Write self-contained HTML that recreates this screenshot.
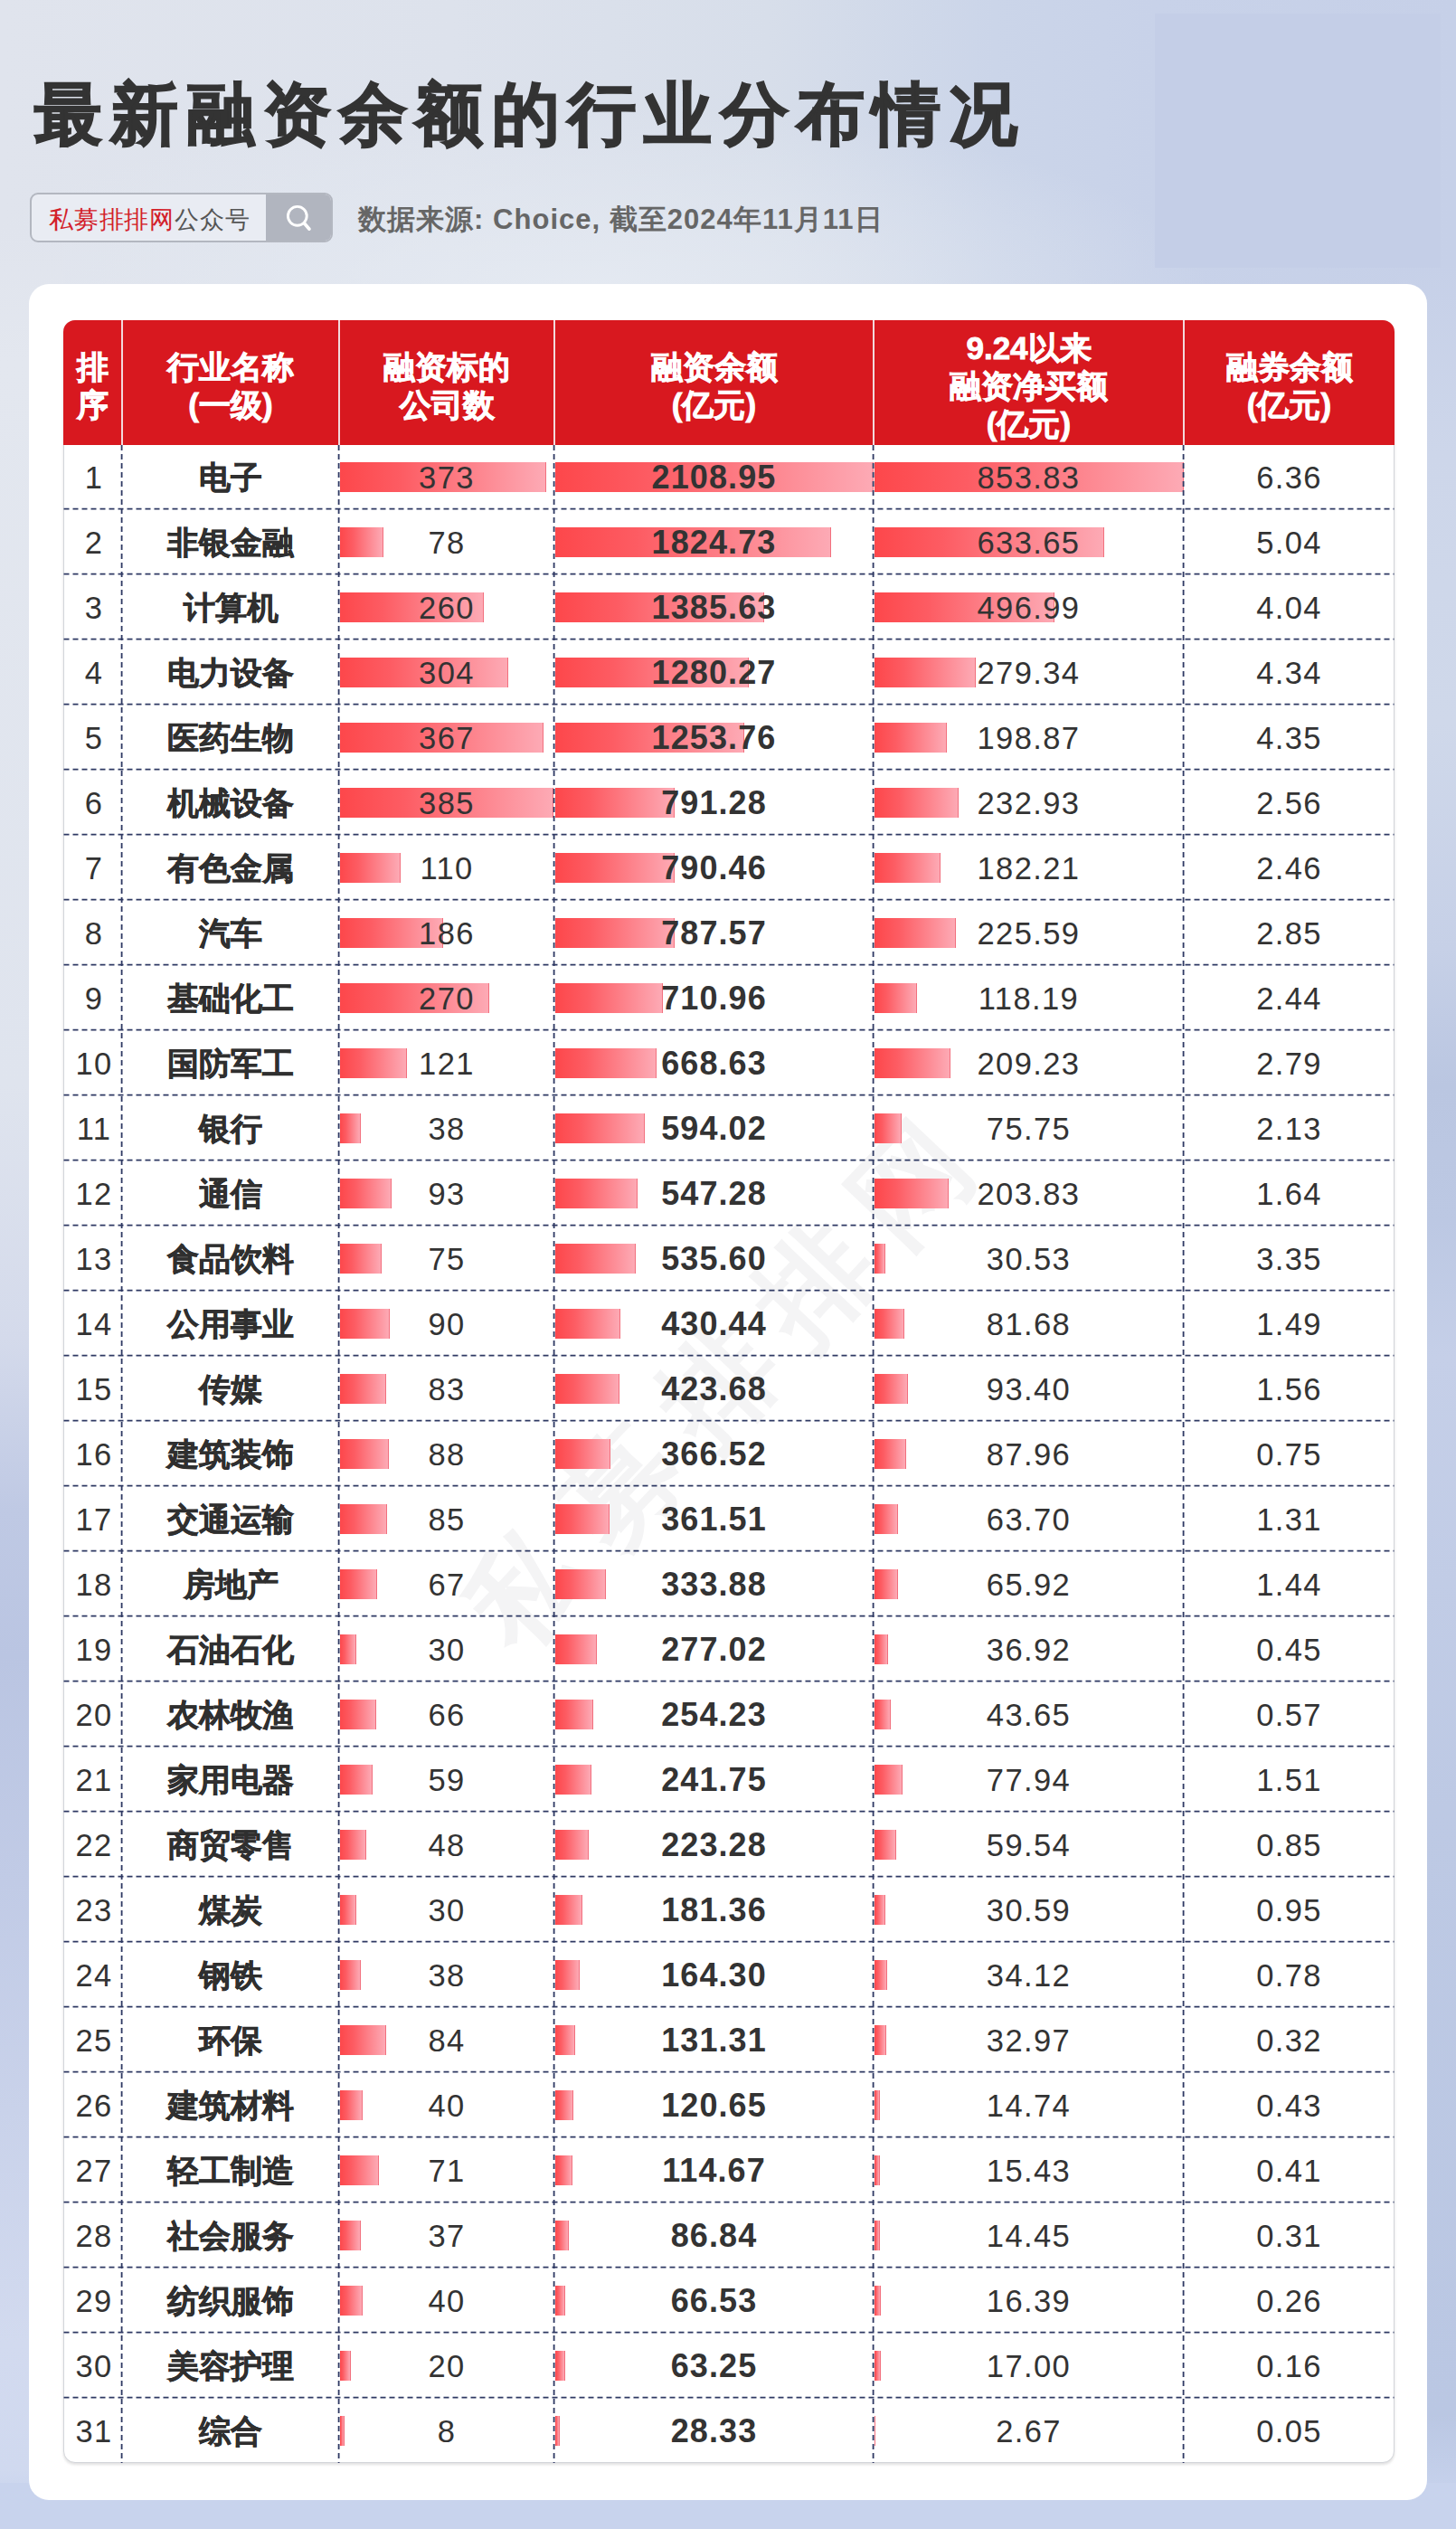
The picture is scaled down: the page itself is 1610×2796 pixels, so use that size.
<!DOCTYPE html>
<html lang="zh"><head><meta charset="utf-8"><title>最新融资余额的行业分布情况</title>
<style>
*{margin:0;padding:0;box-sizing:border-box}
html,body{width:1610px;height:2796px;overflow:hidden}
body{position:relative;font-family:"Liberation Sans",sans-serif;color:#333;
 background:
  radial-gradient(ellipse 700px 210px at 640px 325px, rgba(229,234,242,.95), rgba(229,234,242,0) 100%),
  linear-gradient(90deg,#e0e4ed 0px,#dde2ec 500px,#d7deea 850px,#cbd5e9 1100px,#c8d2e9 1277px,#c6d0e8 1610px);
}
.abs{position:absolute}
#ls{left:0;top:250px;width:70px;height:2546px;background:linear-gradient(180deg,#e0e4ed 0px,#e3e7ef 150px,#dfe4ee 950px,#d4daeb 1230px,#bfc9e4 1420px,#bac5e2 1580px,#c1cbe6 1830px,#c9d2ea 2085px,#d2daef 2340px,#d0d9ef 2480px,#c8d3ed 2520px)}
#rs{left:1545px;top:290px;width:65px;height:2506px;background:linear-gradient(180deg,#c6d0e8 0px,#cdd6ea 210px,#cfd8ea 510px,#c6d0e7 760px,#bac6e1 910px,#bcc8e3 1060px,#c5cfe8 1210px,#bdc9e4 1710px,#bac7e3 2380px,#c8d3ed 2474px)}
#bs{left:0;top:2745px;width:1610px;height:51px;background:#c8d3ed}
#rect{left:1277px;top:15px;width:316px;height:281px;background:#c4cee7}
#title{left:38px;top:70px;font-size:75px;line-height:112px;font-weight:900;color:#333;white-space:nowrap;letter-spacing:9.3px;-webkit-text-stroke:1.8px #333}
#search{left:33px;top:213px;width:335px;height:55px;border:2px solid #b3b7c0;border-radius:9px;background:#e9ecf3;overflow:hidden}
#search .btn{position:absolute;right:0;top:0;width:72px;height:100%;background:#b1b5bf}
#search .txt{position:absolute;left:19px;top:2px;line-height:52px;font-size:27.2px;white-space:nowrap;color:#555;letter-spacing:.8px}
#search .txt b{font-weight:400;color:#d3202a}
#src{left:396px;top:221px;font-size:31px;line-height:44px;font-weight:700;color:#666;white-space:nowrap;letter-spacing:1.02px}
#card{left:32px;top:314px;width:1546px;height:2450px;background:#fff;border-radius:22px}
#tbl{left:70px;top:354px;width:1472px;height:2369px;border-radius:13px;border:1.5px solid #d3d5da;box-shadow:0 2px 3px rgba(0,0,0,.12);background:#fff}
#hdr{left:70px;top:354px;width:1472px;height:138px;background:#d8181f;border-radius:13px 13px 0 0}
.hc{position:absolute;top:354px;height:137px;display:flex;align-items:center;justify-content:center;text-align:center;color:#fff;font-weight:700;font-size:35px;line-height:42px;white-space:nowrap;padding-top:8px;-webkit-text-stroke:.9px #fff}
.hs{position:absolute;top:354px;width:2px;height:138px;background:#f3d9dc}
.c{position:absolute;height:72px;line-height:72px;text-align:center;font-size:34.5px;white-space:nowrap;color:#333;letter-spacing:1.4px;padding-top:1px}
.n{font-weight:700;font-size:34.5px;letter-spacing:0;color:#2f2f2f;-webkit-text-stroke:.6px #2f2f2f}
.r{padding-left:3px}
.b{font-weight:700;font-size:36px;letter-spacing:1.1px}
.bar{position:absolute;height:33px;background:linear-gradient(90deg,#fd474b 0%,#fd5c63 30%,#fdaab5 100%);border-right:1.5px solid #f2707e}
#wm{left:395px;top:1447px;width:800px;height:170px;line-height:170px;font-size:125px;font-weight:900;color:#f4f4f5;text-align:center;white-space:nowrap;letter-spacing:29px;padding-left:29px;transform:rotate(-46.5deg);transform-origin:50% 50%}
</style></head>
<body>
<div class="abs" id="ls"></div><div class="abs" id="rs"></div><div class="abs" id="bs"></div>
<div class="abs" id="rect"></div>
<div class="abs" id="title">最新融资余额的行业分布情况</div>
<div class="abs" id="search"><div class="txt"><b>私募排排网</b>公众号</div><div class="btn"><svg width="72" height="51" viewBox="0 0 72 51"><circle cx="34.8" cy="23.8" r="10.4" fill="none" stroke="#fff" stroke-width="2.9"/><path d="M42.6 32 L48 38.2" stroke="#fff" stroke-width="3.6" stroke-linecap="round"/></svg></div></div>
<div class="abs" id="src">数据来源: Choice, 截至2024年11月11日</div>
<div class="abs" id="card"></div>
<div class="abs" id="tbl"></div>
<div class="abs" id="wm">私募排排网</div>
<div class="abs" id="hdr"></div>
<div class="hc" style="left:70px;width:65px">排<br>序</div>
<div class="hc" style="left:135px;width:240px">行业名称<br>(一级)</div>
<div class="hc" style="left:375px;width:238px">融资标的<br>公司数</div>
<div class="hc" style="left:613px;width:353px">融资余额<br>(亿元)</div>
<div class="hc" style="left:966px;width:343px">9.24以来<br>融资净买额<br>(亿元)</div>
<div class="hc" style="left:1309px;width:233px">融券余额<br>(亿元)</div>
<div class="hs" style="left:134px"></div>
<div class="hs" style="left:374px"></div>
<div class="hs" style="left:612px"></div>
<div class="hs" style="left:965px"></div>
<div class="hs" style="left:1308px"></div>
<div class="bar" style="left:376px;top:511px;width:228.2px"></div>
<div class="bar" style="left:614px;top:511px;width:352.0px"></div>
<div class="bar" style="left:967px;top:511px;width:342.0px"></div>
<div class="c r" style="left:70px;top:491px;width:65px">1</div>
<div class="c n" style="left:135px;top:491px;width:240px">电子</div>
<div class="c" style="left:375px;top:491px;width:238px">373</div>
<div class="c b" style="left:613px;top:491px;width:353px">2108.95</div>
<div class="c" style="left:966px;top:491px;width:343px">853.83</div>
<div class="c" style="left:1309px;top:491px;width:233px">6.36</div>
<div class="bar" style="left:376px;top:583px;width:47.7px"></div>
<div class="bar" style="left:614px;top:583px;width:304.6px"></div>
<div class="bar" style="left:967px;top:583px;width:253.8px"></div>
<div class="c r" style="left:70px;top:563px;width:65px">2</div>
<div class="c n" style="left:135px;top:563px;width:240px">非银金融</div>
<div class="c" style="left:375px;top:563px;width:238px">78</div>
<div class="c b" style="left:613px;top:563px;width:353px">1824.73</div>
<div class="c" style="left:966px;top:563px;width:343px">633.65</div>
<div class="c" style="left:1309px;top:563px;width:233px">5.04</div>
<div class="bar" style="left:376px;top:655px;width:159.0px"></div>
<div class="bar" style="left:614px;top:655px;width:231.3px"></div>
<div class="bar" style="left:967px;top:655px;width:199.1px"></div>
<div class="c r" style="left:70px;top:635px;width:65px">3</div>
<div class="c n" style="left:135px;top:635px;width:240px">计算机</div>
<div class="c" style="left:375px;top:635px;width:238px">260</div>
<div class="c b" style="left:613px;top:635px;width:353px">1385.63</div>
<div class="c" style="left:966px;top:635px;width:343px">496.99</div>
<div class="c" style="left:1309px;top:635px;width:233px">4.04</div>
<div class="bar" style="left:376px;top:727px;width:186.0px"></div>
<div class="bar" style="left:614px;top:727px;width:213.7px"></div>
<div class="bar" style="left:967px;top:727px;width:111.9px"></div>
<div class="c r" style="left:70px;top:707px;width:65px">4</div>
<div class="c n" style="left:135px;top:707px;width:240px">电力设备</div>
<div class="c" style="left:375px;top:707px;width:238px">304</div>
<div class="c b" style="left:613px;top:707px;width:353px">1280.27</div>
<div class="c" style="left:966px;top:707px;width:343px">279.34</div>
<div class="c" style="left:1309px;top:707px;width:233px">4.34</div>
<div class="bar" style="left:376px;top:799px;width:224.5px"></div>
<div class="bar" style="left:614px;top:799px;width:209.3px"></div>
<div class="bar" style="left:967px;top:799px;width:79.7px"></div>
<div class="c r" style="left:70px;top:779px;width:65px">5</div>
<div class="c n" style="left:135px;top:779px;width:240px">医药生物</div>
<div class="c" style="left:375px;top:779px;width:238px">367</div>
<div class="c b" style="left:613px;top:779px;width:353px">1253.76</div>
<div class="c" style="left:966px;top:779px;width:343px">198.87</div>
<div class="c" style="left:1309px;top:779px;width:233px">4.35</div>
<div class="bar" style="left:376px;top:871px;width:235.5px"></div>
<div class="bar" style="left:614px;top:871px;width:132.1px"></div>
<div class="bar" style="left:967px;top:871px;width:93.3px"></div>
<div class="c r" style="left:70px;top:851px;width:65px">6</div>
<div class="c n" style="left:135px;top:851px;width:240px">机械设备</div>
<div class="c" style="left:375px;top:851px;width:238px">385</div>
<div class="c b" style="left:613px;top:851px;width:353px">791.28</div>
<div class="c" style="left:966px;top:851px;width:343px">232.93</div>
<div class="c" style="left:1309px;top:851px;width:233px">2.56</div>
<div class="bar" style="left:376px;top:943px;width:67.3px"></div>
<div class="bar" style="left:614px;top:943px;width:131.9px"></div>
<div class="bar" style="left:967px;top:943px;width:73.0px"></div>
<div class="c r" style="left:70px;top:923px;width:65px">7</div>
<div class="c n" style="left:135px;top:923px;width:240px">有色金属</div>
<div class="c" style="left:375px;top:923px;width:238px">110</div>
<div class="c b" style="left:613px;top:923px;width:353px">790.46</div>
<div class="c" style="left:966px;top:923px;width:343px">182.21</div>
<div class="c" style="left:1309px;top:923px;width:233px">2.46</div>
<div class="bar" style="left:376px;top:1015px;width:113.8px"></div>
<div class="bar" style="left:614px;top:1015px;width:131.5px"></div>
<div class="bar" style="left:967px;top:1015px;width:90.4px"></div>
<div class="c r" style="left:70px;top:995px;width:65px">8</div>
<div class="c n" style="left:135px;top:995px;width:240px">汽车</div>
<div class="c" style="left:375px;top:995px;width:238px">186</div>
<div class="c b" style="left:613px;top:995px;width:353px">787.57</div>
<div class="c" style="left:966px;top:995px;width:343px">225.59</div>
<div class="c" style="left:1309px;top:995px;width:233px">2.85</div>
<div class="bar" style="left:376px;top:1087px;width:165.2px"></div>
<div class="bar" style="left:614px;top:1087px;width:118.7px"></div>
<div class="bar" style="left:967px;top:1087px;width:47.3px"></div>
<div class="c r" style="left:70px;top:1067px;width:65px">9</div>
<div class="c n" style="left:135px;top:1067px;width:240px">基础化工</div>
<div class="c" style="left:375px;top:1067px;width:238px">270</div>
<div class="c b" style="left:613px;top:1067px;width:353px">710.96</div>
<div class="c" style="left:966px;top:1067px;width:343px">118.19</div>
<div class="c" style="left:1309px;top:1067px;width:233px">2.44</div>
<div class="bar" style="left:376px;top:1159px;width:74.0px"></div>
<div class="bar" style="left:614px;top:1159px;width:111.6px"></div>
<div class="bar" style="left:967px;top:1159px;width:83.8px"></div>
<div class="c r" style="left:70px;top:1139px;width:65px">10</div>
<div class="c n" style="left:135px;top:1139px;width:240px">国防军工</div>
<div class="c" style="left:375px;top:1139px;width:238px">121</div>
<div class="c b" style="left:613px;top:1139px;width:353px">668.63</div>
<div class="c" style="left:966px;top:1139px;width:343px">209.23</div>
<div class="c" style="left:1309px;top:1139px;width:233px">2.79</div>
<div class="bar" style="left:376px;top:1231px;width:23.2px"></div>
<div class="bar" style="left:614px;top:1231px;width:99.1px"></div>
<div class="bar" style="left:967px;top:1231px;width:30.3px"></div>
<div class="c r" style="left:70px;top:1211px;width:65px">11</div>
<div class="c n" style="left:135px;top:1211px;width:240px">银行</div>
<div class="c" style="left:375px;top:1211px;width:238px">38</div>
<div class="c b" style="left:613px;top:1211px;width:353px">594.02</div>
<div class="c" style="left:966px;top:1211px;width:343px">75.75</div>
<div class="c" style="left:1309px;top:1211px;width:233px">2.13</div>
<div class="bar" style="left:376px;top:1303px;width:56.9px"></div>
<div class="bar" style="left:614px;top:1303px;width:91.3px"></div>
<div class="bar" style="left:967px;top:1303px;width:81.6px"></div>
<div class="c r" style="left:70px;top:1283px;width:65px">12</div>
<div class="c n" style="left:135px;top:1283px;width:240px">通信</div>
<div class="c" style="left:375px;top:1283px;width:238px">93</div>
<div class="c b" style="left:613px;top:1283px;width:353px">547.28</div>
<div class="c" style="left:966px;top:1283px;width:343px">203.83</div>
<div class="c" style="left:1309px;top:1283px;width:233px">1.64</div>
<div class="bar" style="left:376px;top:1375px;width:45.9px"></div>
<div class="bar" style="left:614px;top:1375px;width:89.4px"></div>
<div class="bar" style="left:967px;top:1375px;width:12.2px"></div>
<div class="c r" style="left:70px;top:1355px;width:65px">13</div>
<div class="c n" style="left:135px;top:1355px;width:240px">食品饮料</div>
<div class="c" style="left:375px;top:1355px;width:238px">75</div>
<div class="c b" style="left:613px;top:1355px;width:353px">535.60</div>
<div class="c" style="left:966px;top:1355px;width:343px">30.53</div>
<div class="c" style="left:1309px;top:1355px;width:233px">3.35</div>
<div class="bar" style="left:376px;top:1447px;width:55.1px"></div>
<div class="bar" style="left:614px;top:1447px;width:71.8px"></div>
<div class="bar" style="left:967px;top:1447px;width:32.7px"></div>
<div class="c r" style="left:70px;top:1427px;width:65px">14</div>
<div class="c n" style="left:135px;top:1427px;width:240px">公用事业</div>
<div class="c" style="left:375px;top:1427px;width:238px">90</div>
<div class="c b" style="left:613px;top:1427px;width:353px">430.44</div>
<div class="c" style="left:966px;top:1427px;width:343px">81.68</div>
<div class="c" style="left:1309px;top:1427px;width:233px">1.49</div>
<div class="bar" style="left:376px;top:1519px;width:50.8px"></div>
<div class="bar" style="left:614px;top:1519px;width:70.7px"></div>
<div class="bar" style="left:967px;top:1519px;width:37.4px"></div>
<div class="c r" style="left:70px;top:1499px;width:65px">15</div>
<div class="c n" style="left:135px;top:1499px;width:240px">传媒</div>
<div class="c" style="left:375px;top:1499px;width:238px">83</div>
<div class="c b" style="left:613px;top:1499px;width:353px">423.68</div>
<div class="c" style="left:966px;top:1499px;width:343px">93.40</div>
<div class="c" style="left:1309px;top:1499px;width:233px">1.56</div>
<div class="bar" style="left:376px;top:1591px;width:53.8px"></div>
<div class="bar" style="left:614px;top:1591px;width:61.2px"></div>
<div class="bar" style="left:967px;top:1591px;width:35.2px"></div>
<div class="c r" style="left:70px;top:1571px;width:65px">16</div>
<div class="c n" style="left:135px;top:1571px;width:240px">建筑装饰</div>
<div class="c" style="left:375px;top:1571px;width:238px">88</div>
<div class="c b" style="left:613px;top:1571px;width:353px">366.52</div>
<div class="c" style="left:966px;top:1571px;width:343px">87.96</div>
<div class="c" style="left:1309px;top:1571px;width:233px">0.75</div>
<div class="bar" style="left:376px;top:1663px;width:52.0px"></div>
<div class="bar" style="left:614px;top:1663px;width:60.3px"></div>
<div class="bar" style="left:967px;top:1663px;width:25.5px"></div>
<div class="c r" style="left:70px;top:1643px;width:65px">17</div>
<div class="c n" style="left:135px;top:1643px;width:240px">交通运输</div>
<div class="c" style="left:375px;top:1643px;width:238px">85</div>
<div class="c b" style="left:613px;top:1643px;width:353px">361.51</div>
<div class="c" style="left:966px;top:1643px;width:343px">63.70</div>
<div class="c" style="left:1309px;top:1643px;width:233px">1.31</div>
<div class="bar" style="left:376px;top:1735px;width:41.0px"></div>
<div class="bar" style="left:614px;top:1735px;width:55.7px"></div>
<div class="bar" style="left:967px;top:1735px;width:26.4px"></div>
<div class="c r" style="left:70px;top:1715px;width:65px">18</div>
<div class="c n" style="left:135px;top:1715px;width:240px">房地产</div>
<div class="c" style="left:375px;top:1715px;width:238px">67</div>
<div class="c b" style="left:613px;top:1715px;width:353px">333.88</div>
<div class="c" style="left:966px;top:1715px;width:343px">65.92</div>
<div class="c" style="left:1309px;top:1715px;width:233px">1.44</div>
<div class="bar" style="left:376px;top:1807px;width:18.4px"></div>
<div class="bar" style="left:614px;top:1807px;width:46.2px"></div>
<div class="bar" style="left:967px;top:1807px;width:14.8px"></div>
<div class="c r" style="left:70px;top:1787px;width:65px">19</div>
<div class="c n" style="left:135px;top:1787px;width:240px">石油石化</div>
<div class="c" style="left:375px;top:1787px;width:238px">30</div>
<div class="c b" style="left:613px;top:1787px;width:353px">277.02</div>
<div class="c" style="left:966px;top:1787px;width:343px">36.92</div>
<div class="c" style="left:1309px;top:1787px;width:233px">0.45</div>
<div class="bar" style="left:376px;top:1879px;width:40.4px"></div>
<div class="bar" style="left:614px;top:1879px;width:42.4px"></div>
<div class="bar" style="left:967px;top:1879px;width:17.5px"></div>
<div class="c r" style="left:70px;top:1859px;width:65px">20</div>
<div class="c n" style="left:135px;top:1859px;width:240px">农林牧渔</div>
<div class="c" style="left:375px;top:1859px;width:238px">66</div>
<div class="c b" style="left:613px;top:1859px;width:353px">254.23</div>
<div class="c" style="left:966px;top:1859px;width:343px">43.65</div>
<div class="c" style="left:1309px;top:1859px;width:233px">0.57</div>
<div class="bar" style="left:376px;top:1951px;width:36.1px"></div>
<div class="bar" style="left:614px;top:1951px;width:40.3px"></div>
<div class="bar" style="left:967px;top:1951px;width:31.2px"></div>
<div class="c r" style="left:70px;top:1931px;width:65px">21</div>
<div class="c n" style="left:135px;top:1931px;width:240px">家用电器</div>
<div class="c" style="left:375px;top:1931px;width:238px">59</div>
<div class="c b" style="left:613px;top:1931px;width:353px">241.75</div>
<div class="c" style="left:966px;top:1931px;width:343px">77.94</div>
<div class="c" style="left:1309px;top:1931px;width:233px">1.51</div>
<div class="bar" style="left:376px;top:2023px;width:29.4px"></div>
<div class="bar" style="left:614px;top:2023px;width:37.3px"></div>
<div class="bar" style="left:967px;top:2023px;width:23.8px"></div>
<div class="c r" style="left:70px;top:2003px;width:65px">22</div>
<div class="c n" style="left:135px;top:2003px;width:240px">商贸零售</div>
<div class="c" style="left:375px;top:2003px;width:238px">48</div>
<div class="c b" style="left:613px;top:2003px;width:353px">223.28</div>
<div class="c" style="left:966px;top:2003px;width:343px">59.54</div>
<div class="c" style="left:1309px;top:2003px;width:233px">0.85</div>
<div class="bar" style="left:376px;top:2095px;width:18.4px"></div>
<div class="bar" style="left:614px;top:2095px;width:30.3px"></div>
<div class="bar" style="left:967px;top:2095px;width:12.3px"></div>
<div class="c r" style="left:70px;top:2075px;width:65px">23</div>
<div class="c n" style="left:135px;top:2075px;width:240px">煤炭</div>
<div class="c" style="left:375px;top:2075px;width:238px">30</div>
<div class="c b" style="left:613px;top:2075px;width:353px">181.36</div>
<div class="c" style="left:966px;top:2075px;width:343px">30.59</div>
<div class="c" style="left:1309px;top:2075px;width:233px">0.95</div>
<div class="bar" style="left:376px;top:2167px;width:23.2px"></div>
<div class="bar" style="left:614px;top:2167px;width:27.4px"></div>
<div class="bar" style="left:967px;top:2167px;width:13.7px"></div>
<div class="c r" style="left:70px;top:2147px;width:65px">24</div>
<div class="c n" style="left:135px;top:2147px;width:240px">钢铁</div>
<div class="c" style="left:375px;top:2147px;width:238px">38</div>
<div class="c b" style="left:613px;top:2147px;width:353px">164.30</div>
<div class="c" style="left:966px;top:2147px;width:343px">34.12</div>
<div class="c" style="left:1309px;top:2147px;width:233px">0.78</div>
<div class="bar" style="left:376px;top:2239px;width:51.4px"></div>
<div class="bar" style="left:614px;top:2239px;width:21.9px"></div>
<div class="bar" style="left:967px;top:2239px;width:13.2px"></div>
<div class="c r" style="left:70px;top:2219px;width:65px">25</div>
<div class="c n" style="left:135px;top:2219px;width:240px">环保</div>
<div class="c" style="left:375px;top:2219px;width:238px">84</div>
<div class="c b" style="left:613px;top:2219px;width:353px">131.31</div>
<div class="c" style="left:966px;top:2219px;width:343px">32.97</div>
<div class="c" style="left:1309px;top:2219px;width:233px">0.32</div>
<div class="bar" style="left:376px;top:2311px;width:24.5px"></div>
<div class="bar" style="left:614px;top:2311px;width:20.1px"></div>
<div class="bar" style="left:967px;top:2311px;width:5.9px"></div>
<div class="c r" style="left:70px;top:2291px;width:65px">26</div>
<div class="c n" style="left:135px;top:2291px;width:240px">建筑材料</div>
<div class="c" style="left:375px;top:2291px;width:238px">40</div>
<div class="c b" style="left:613px;top:2291px;width:353px">120.65</div>
<div class="c" style="left:966px;top:2291px;width:343px">14.74</div>
<div class="c" style="left:1309px;top:2291px;width:233px">0.43</div>
<div class="bar" style="left:376px;top:2383px;width:43.4px"></div>
<div class="bar" style="left:614px;top:2383px;width:19.1px"></div>
<div class="bar" style="left:967px;top:2383px;width:6.2px"></div>
<div class="c r" style="left:70px;top:2363px;width:65px">27</div>
<div class="c n" style="left:135px;top:2363px;width:240px">轻工制造</div>
<div class="c" style="left:375px;top:2363px;width:238px">71</div>
<div class="c b" style="left:613px;top:2363px;width:353px">114.67</div>
<div class="c" style="left:966px;top:2363px;width:343px">15.43</div>
<div class="c" style="left:1309px;top:2363px;width:233px">0.41</div>
<div class="bar" style="left:376px;top:2455px;width:22.6px"></div>
<div class="bar" style="left:614px;top:2455px;width:14.5px"></div>
<div class="bar" style="left:967px;top:2455px;width:5.8px"></div>
<div class="c r" style="left:70px;top:2435px;width:65px">28</div>
<div class="c n" style="left:135px;top:2435px;width:240px">社会服务</div>
<div class="c" style="left:375px;top:2435px;width:238px">37</div>
<div class="c b" style="left:613px;top:2435px;width:353px">86.84</div>
<div class="c" style="left:966px;top:2435px;width:343px">14.45</div>
<div class="c" style="left:1309px;top:2435px;width:233px">0.31</div>
<div class="bar" style="left:376px;top:2527px;width:24.5px"></div>
<div class="bar" style="left:614px;top:2527px;width:11.1px"></div>
<div class="bar" style="left:967px;top:2527px;width:6.6px"></div>
<div class="c r" style="left:70px;top:2507px;width:65px">29</div>
<div class="c n" style="left:135px;top:2507px;width:240px">纺织服饰</div>
<div class="c" style="left:375px;top:2507px;width:238px">40</div>
<div class="c b" style="left:613px;top:2507px;width:353px">66.53</div>
<div class="c" style="left:966px;top:2507px;width:343px">16.39</div>
<div class="c" style="left:1309px;top:2507px;width:233px">0.26</div>
<div class="bar" style="left:376px;top:2599px;width:12.2px"></div>
<div class="bar" style="left:614px;top:2599px;width:10.6px"></div>
<div class="bar" style="left:967px;top:2599px;width:6.8px"></div>
<div class="c r" style="left:70px;top:2579px;width:65px">30</div>
<div class="c n" style="left:135px;top:2579px;width:240px">美容护理</div>
<div class="c" style="left:375px;top:2579px;width:238px">20</div>
<div class="c b" style="left:613px;top:2579px;width:353px">63.25</div>
<div class="c" style="left:966px;top:2579px;width:343px">17.00</div>
<div class="c" style="left:1309px;top:2579px;width:233px">0.16</div>
<div class="bar" style="left:376px;top:2671px;width:4.9px"></div>
<div class="bar" style="left:614px;top:2671px;width:4.7px"></div>
<div class="bar" style="left:967px;top:2671px;width:1.1px"></div>
<div class="c r" style="left:70px;top:2651px;width:65px">31</div>
<div class="c n" style="left:135px;top:2651px;width:240px">综合</div>
<div class="c" style="left:375px;top:2651px;width:238px">8</div>
<div class="c b" style="left:613px;top:2651px;width:353px">28.33</div>
<div class="c" style="left:966px;top:2651px;width:343px">2.67</div>
<div class="c" style="left:1309px;top:2651px;width:233px">0.05</div>
<svg class="abs" id="lines" style="left:0;top:0" width="1610" height="2796" viewBox="0 0 1610 2796" fill="none" stroke="#2e3963" stroke-width="1.8" stroke-dasharray="6 4"><path d="M70.5 562.7H1541.5"/><path d="M70.5 634.7H1541.5"/><path d="M70.5 706.7H1541.5"/><path d="M70.5 778.7H1541.5"/><path d="M70.5 850.7H1541.5"/><path d="M70.5 922.7H1541.5"/><path d="M70.5 994.7H1541.5"/><path d="M70.5 1066.7H1541.5"/><path d="M70.5 1138.7H1541.5"/><path d="M70.5 1210.7H1541.5"/><path d="M70.5 1282.7H1541.5"/><path d="M70.5 1354.7H1541.5"/><path d="M70.5 1426.7H1541.5"/><path d="M70.5 1498.7H1541.5"/><path d="M70.5 1570.7H1541.5"/><path d="M70.5 1642.7H1541.5"/><path d="M70.5 1714.7H1541.5"/><path d="M70.5 1786.7H1541.5"/><path d="M70.5 1858.7H1541.5"/><path d="M70.5 1930.7H1541.5"/><path d="M70.5 2002.7H1541.5"/><path d="M70.5 2074.7H1541.5"/><path d="M70.5 2146.7H1541.5"/><path d="M70.5 2218.7H1541.5"/><path d="M70.5 2290.7H1541.5"/><path d="M70.5 2362.7H1541.5"/><path d="M70.5 2434.7H1541.5"/><path d="M70.5 2506.7H1541.5"/><path d="M70.5 2578.7H1541.5"/><path d="M70.5 2650.7H1541.5"/><path d="M134.6 492V2723"/><path d="M374.6 492V2723"/><path d="M612.6 492V2723"/><path d="M965.6 492V2723"/><path d="M1308.6 492V2723"/></svg>
</body></html>
